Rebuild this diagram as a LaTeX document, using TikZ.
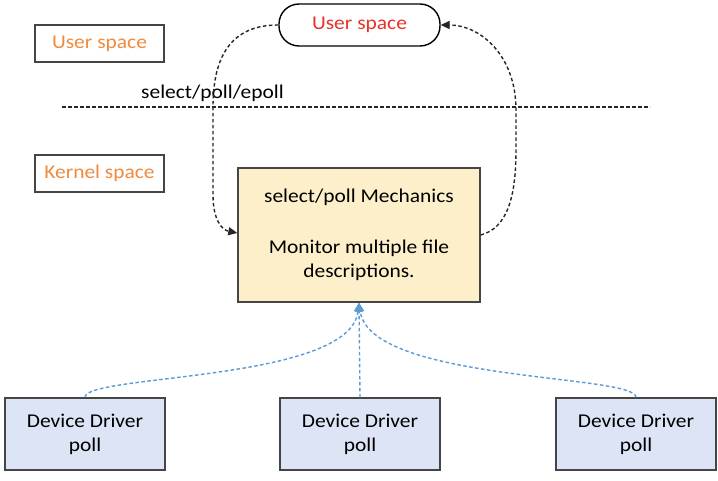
\documentclass[tikz,border=0pt]{standalone}
\usepackage{fontspec}
\setmainfont[FakeStretch=1.1]{Carlito}
\usetikzlibrary{arrows.meta}
\definecolor{orangetxt}{HTML}{F08A3C}
\definecolor{redtxt}{HTML}{E8322A}
\definecolor{mainfill}{HTML}{FCEFCA}
\definecolor{devfill}{HTML}{DDE4F5}
\definecolor{bordergray}{HTML}{454545}
\definecolor{bluedash}{HTML}{5B9BD5}
\begin{document}
\begin{tikzpicture}[x=1pt,y=-1pt,
  every node/.style={font=\fontsize{19.5}{24}\selectfont, inner sep=0pt, align=center},
  labelbox/.style={draw=bordergray, line width=1.4pt, text=orangetxt, minimum width=129pt, minimum height=37pt},
  pill/.style={draw=black, line width=1.4pt, rounded corners=20pt, text=redtxt, minimum width=161pt, minimum height=42pt},
  mainbox/.style={draw=bordergray, line width=1.4pt, fill=mainfill, minimum width=242pt, minimum height=134pt},
  devbox/.style={draw=bordergray, line width=1.4pt, fill=devfill, minimum width=160pt, minimum height=72pt},
  blackdash/.style={draw=black!85, line width=1.4pt, dash pattern=on 3.5pt off 2.5pt},
  bluearrow/.style={draw=bluedash, line width=1.4pt, dash pattern=on 3.5pt off 2.5pt, -{Triangle[length=9pt,width=8pt]}},
]
\useasboundingbox (0,0) rectangle (718,481);
\fill[white] (0,0) rectangle (718,481);

\node[labelbox] (us) at (99.5,43.5) {User space};
\node[labelbox] (ks) at (99.5,173.5) {Kernel space};
\node[pill] (pill) at (359.5,25) {User space};
\node[anchor=west] (sel) at (141,93) {select/poll/epoll};
\coordinate (dl) at (62,107);
\coordinate (dr) at (650,107);
\draw[blackdash] (dl) -- (dr);

\node[mainbox] (main) at (359,235) {};
\node (t1) at (359,197) {select/poll Mechanics};
\node (t2) at (359,260) {Monitor multiple file\\descriptions.};

\node[devbox] (d1) at (85,434) {Device Driver\\poll};
\node[devbox] (d2) at (360,434) {Device Driver\\poll};
\node[devbox] (d3) at (636,434) {Device Driver\\poll};

% left curve: pill to main
\draw[blackdash, -{Triangle[length=9pt,width=8pt]}] (pill.west) .. controls (232,25) and (213,55) .. (213,107)
  -- (213,195) .. controls (213,220) and (222,230) .. (main.west |- 0,233);
% right curve: main to pill
\draw[blackdash, -{Triangle[length=9pt,width=8pt]}] (main.east |- 0,235) .. controls (508,228) and (516,195) .. (516,150)
  -- (516,110) .. controls (516,55) and (480,25) .. (pill.east);

% blue arrows
\draw[bluearrow] (d1.north) .. controls (85,374) and (350,382) .. (main.south);
\draw[bluearrow] (d2.north) -- (main.south);
\draw[bluearrow] (d3.north) .. controls (636,374) and (370,382) .. (main.south);
\end{tikzpicture}
\end{document}
